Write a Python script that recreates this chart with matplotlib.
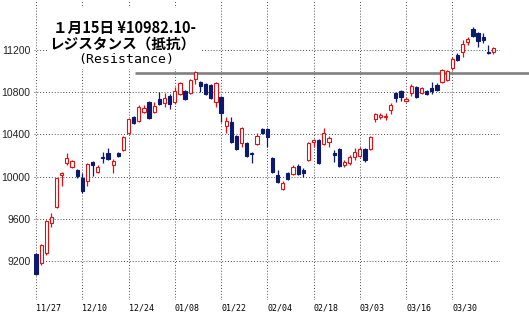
import numpy as np
import matplotlib
matplotlib.use("Agg")
import matplotlib.pyplot as plt
from matplotlib.patches import Rectangle

# 日経平均 日足 (2009/11/27 - 2010/04/09)
opens = [9266, 9181, 9276, 9560, 9712, 10015, 10129, 10091, 10062, 9987,
         9958, 10138, 10044, 10186, 10224, 10110, 10224, 10252, 10413, 10565,
         10527, 10612, 10707, 10612, 10735, 10698, 10764, 10707, 10783, 10811,
         10792, 10925, 10897, 10878, 10868, 10707, 10754, 10480, 10517, 10385,
         10318, 10318, 10224, 10309, 10451, 10451, 10176, 10015, 9882, 10034,
         10024, 10100, 10062, 10157, 10328, 10347, 10309, 10328, 10224, 10262,
         10110, 10129, 10186, 10195, 10262, 10262, 10546, 10565, 10565, 10631,
         10792, 10811, 10717, 10792, 10849, 10792, 10811, 10840, 10868, 10897,
         10916, 11029, 11153, 11181, 11276, 11399, 11361, 11323, 11181, 11181]
highs = [9280, 9360, 9585, 9655, 9990, 10040, 10224, 10155, 10068, 10034,
         10129, 10145, 10110, 10233, 10271, 10167, 10230, 10380, 10550, 10570,
         10679, 10679, 10715, 10707, 10802, 10792, 10783, 10849, 10895, 10820,
         10925, 11001, 10906, 10887, 10878, 10895, 10764, 10565, 10565, 10394,
         10470, 10328, 10230, 10413, 10461, 10461, 10186, 10062, 9958, 10043,
         10110, 10120, 10080, 10328, 10356, 10356, 10461, 10385, 10252, 10271,
         10157, 10205, 10271, 10280, 10271, 10385, 10603, 10603, 10603, 10698,
         10802, 10820, 10754, 10878, 10859, 10849, 10821, 10897, 10887, 11020,
         11010, 11134, 11170, 11295, 11323, 11418, 11370, 11361, 11247, 11228]
lows = [9070, 9162, 9257, 9522, 9700, 9911, 10110, 10080, 9987, 9844,
        9911, 10006, 10034, 10129, 10160, 10034, 10190, 10245, 10400, 10500,
        10517, 10605, 10545, 10605, 10679, 10660, 10640, 10688, 10775, 10726,
        10783, 10878, 10802, 10775, 10735, 10660, 10517, 10413, 10318, 10252,
        10280, 10186, 10129, 10300, 10405, 10280, 10034, 9939, 9873, 9968,
        10015, 10015, 10000, 10148, 10280, 10120, 10300, 10280, 10138, 10091,
        10091, 10110, 10157, 10186, 10138, 10252, 10517, 10546, 10537, 10593,
        10707, 10717, 10707, 10764, 10745, 10783, 10775, 10783, 10811, 10887,
        10906, 11010, 11095, 11134, 11247, 11323, 11228, 11266, 11162, 11162]
closes = [9077, 9351, 9579, 9617, 9987, 10034, 10176, 10148, 10006, 9863,
          10119, 10110, 10091, 10176, 10167, 10148, 10195, 10375, 10546, 10508,
          10660, 10650, 10555, 10669, 10688, 10745, 10688, 10811, 10887, 10735,
          10916, 10991, 10859, 10783, 10745, 10887, 10603, 10527, 10328, 10262,
          10461, 10195, 10214, 10385, 10413, 10375, 10043, 9949, 9939, 9977,
          10091, 10024, 10034, 10318, 10347, 10129, 10413, 10366, 10205, 10100,
          10138, 10186, 10233, 10262, 10157, 10375, 10593, 10584, 10574, 10679,
          10745, 10754, 10735, 10859, 10754, 10840, 10783, 10811, 10821, 11010,
          11001, 11115, 11105, 11257, 11304, 11333, 11285, 11295, 11172, 11219]

tick_pos = [0, 9, 18, 27, 36, 45, 54, 63, 72, 81]
tick_labels = ["11/27", "12/10", "12/24", "01/08", "01/22",
               "02/04", "02/18", "03/03", "03/16", "03/30"]
y_ticks = [9200, 9600, 10000, 10400, 10800, 11200]
resistance = 10982.10

RED = "#dd1111"
BLUE = "#0b1a6e"

o = np.array(opens, float)
h = np.array(highs, float)
l = np.array(lows, float)
c = np.array(closes, float)
x = np.arange(len(o))
up = c >= o

W, H = 529, 313
fig = plt.figure(figsize=(W / 100, H / 100), dpi=100)
ax = fig.add_axes([34 / W, 1 - 300 / H, (500 - 34) / W, 300 / H])
ax.set_xlim(-0.39, 90.27)
ax.set_ylim(8830, 11674)

# 抵抗線
ax.plot([19.3, 96], [resistance, resistance], color="#808080", lw=1.9,
        clip_on=False, zorder=2, solid_capstyle="butt")

# ローソク足
cols = np.where(up, RED, BLUE)
ax.vlines(x, l, h, colors=cols, lw=0.9, zorder=3)
bottom = np.minimum(o, c)
height = np.maximum(np.abs(c - o), 9)
ax.bar(x[up], height[up], bottom=bottom[up], width=0.62, facecolor="white",
       edgecolor=RED, lw=0.8, zorder=4)
ax.bar(x[~up], height[~up], bottom=bottom[~up], width=0.62, facecolor=BLUE,
       edgecolor=BLUE, lw=0.8, zorder=4)

ax.set_xticks(tick_pos)
ax.set_xticklabels(tick_labels, fontsize=6, family="DejaVu Sans Mono")
for t in ax.get_xticklabels():
    t.set_ha("left")
ax.set_yticks(y_ticks)
ax.set_yticklabels([str(v) for v in y_ticks], fontsize=7.5,
                   family="Liberation Sans", color="#222222")
ax.tick_params(length=0, pad=2.5)
ax.grid(True, color="#333333", linestyle=(0, (1, 2.2)), lw=0.65)
ax.set_axisbelow(True)
for s in ax.spines.values():
    s.set_visible(False)

# タイトル部分 (白地)
fig.patches.append(Rectangle((47 / W, 1 - 69 / H), (201 - 47) / W, 61 / H,
                             transform=fig.transFigure, facecolor="white",
                             edgecolor="none", zorder=1))
jp = ["Noto Sans CJK JP", "DejaVu Sans"]
fig.text(53 / W, 1 - 28 / H, "１月15日 ¥10982.10-", fontsize=10.5,
         weight="bold", family=jp, ha="left", va="center", zorder=5)
fig.text(49 / W, 1 - 44 / H, "レジスタンス（抵抗）", fontsize=10.5,
         weight="bold", family=jp, ha="left", va="center", zorder=5)
fig.text(78 / W, 1 - 59 / H, "(Resistance)", fontsize=9.5,
         family="DejaVu Sans Mono", ha="left", va="center", zorder=5)

fig.savefig("out.png", dpi=100)
